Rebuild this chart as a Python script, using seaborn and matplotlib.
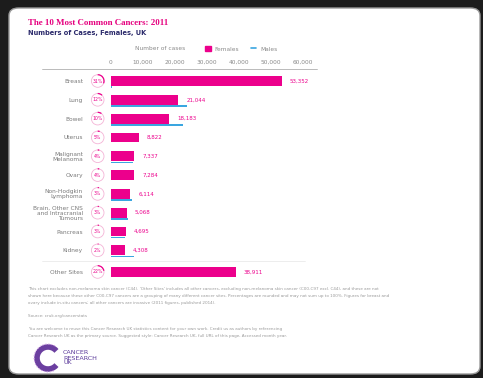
import numpy as np
import pandas as pd
import matplotlib
matplotlib.use("Agg")
import matplotlib.pyplot as plt
import matplotlib.patches as mpatches
import matplotlib.transforms as mtransforms
from matplotlib.lines import Line2D
import seaborn as sns

# ---------------- data ----------------
sites = ["Breast", "Lung", "Bowel", "Uterus", "Malignant\nMelanoma", "Ovary",
         "Non-Hodgkin\nLymphoma", "Brain, Other CNS\nand Intracranial\nTumours",
         "Pancreas", "Kidney", "Other Sites"]
females = [53352, 21044, 18183, 8822, 7337, 7284, 6114, 5068, 4695, 4308, 38911]
males = [350, 23700, 22400, np.nan, 6900, np.nan, 6750, 5400, 4600, 7400, np.nan]
percents = ["31%", "12%", "10%", "5%", "4%", "4%", "3%", "3%", "3%", "2%", "22%"]
xticks = [0, 10000, 20000, 30000, 40000, 50000, 60000]

PINK = "#ec008c"
BLUE = "#3aa6e0"
GREY = "#8a8a8a"

W, H = 483, 378
DPI = 100

sns.set_theme(style="white")
plt.rcParams["font.family"] = ["DejaVu Sans"]

fig = plt.figure(figsize=(W / DPI, H / DPI), dpi=DPI, facecolor="#1c1c1c")

def fx(px):
    return px / W

def fy(py):
    return 1 - py / H

# white rounded panel
panel = mpatches.FancyBboxPatch((fx(9), fy(374)), fx(471), 366 / H,
                                boxstyle="round,pad=0,rounding_size=0.02",
                                transform=fig.transFigure, facecolor="white",
                                edgecolor="#9a9a9a", linewidth=1.0, zorder=-10)
fig.patches.append(panel)

# positions (layout, computed)
n = len(sites)
pos = [float(i) for i in range(n - 1)] + [n - 1 + 0.15]

df_f = pd.DataFrame({"site": sites, "cases": females, "pos": pos})
df_m = pd.DataFrame({"site": sites, "cases": males,
                     "pos": [p + 0.33 for p in pos]}).dropna()

# axes placement
row_px = 18.8
top_px = 81 - 0.69 * row_px
bot_px = 272 + 0.55 * row_px
left_px = 110.7
right_px = 317
ax = fig.add_axes([fx(left_px), fy(bot_px), fx(right_px - left_px),
                   (bot_px - top_px) / H])
ax.set_facecolor("none")
ax.set_zorder(1)

sns.barplot(data=df_f, x="cases", y="pos", orient="h", native_scale=True,
            color=PINK, width=0.52, saturation=1, ax=ax, linewidth=0)
sns.barplot(data=df_m, x="cases", y="pos", orient="h", native_scale=True,
            color=BLUE, width=0.08, saturation=1, ax=ax, linewidth=0)

xmax = (right_px - left_px) / 32.1 * 10000
ax.set_xlim(0, xmax)
ax.set_ylim(pos[-1] + 0.55, -0.69)

ax.xaxis.tick_top()
ax.set_xticks(xticks)
ax.set_xticklabels([f"{t:,}" for t in xticks], fontsize=4.2, color=GREY)
ax.tick_params(axis="x", length=0, pad=2)
ax.set_yticks(pos)
ax.set_yticklabels(sites, fontsize=4.2, color="#7a7a7a", linespacing=1.0)
ax.tick_params(axis="y", length=0, pad=20)
ax.set_xlabel("")
ax.set_ylabel("")
for s in ax.spines.values():
    s.set_visible(False)

# value labels
for v, p in zip(females, pos):
    ax.text(v + 2500, p, f"{v:,}", color=PINK,
            fontsize=4.0, va="center", ha="left")

# percentage icons
for pc, p in zip(percents, pos):
    disp = ax.transData.transform((0, p))
    cx = 97.7
    cy = disp[1]
    circ = mpatches.Circle((cx, cy), 6.3, transform=mtransforms.IdentityTransform(),
                           facecolor="white", edgecolor="#f4b3d6", linewidth=0.6,
                           zorder=5)
    fig.patches.append(circ)
    frac = float(pc.strip("%")) / 100
    arc = mpatches.Arc((cx, cy), 12.6, 12.6, theta1=90 - 360 * frac, theta2=90,
                       transform=mtransforms.IdentityTransform(),
                       edgecolor=PINK, linewidth=0.9, zorder=6)
    fig.patches.append(arc)
    fig.text(fx(cx), cy / H, pc, fontsize=3.3, color=PINK, ha="center",
             va="center", zorder=7)

# separator lines
fig.add_artist(Line2D([fx(42), fx(317)], [fy(69), fy(69)], color="#b0b0b0",
                      linewidth=0.6))
sep_y = ax.transData.transform((0, (pos[-2] + pos[-1]) / 2))[1] / H
fig.add_artist(Line2D([fx(42), fx(305)], [sep_y, sep_y], color="#e6e6e6",
                      linewidth=0.5))

# titles
fig.text(fx(28), fy(23), "The 10 Most Common Cancers: 2011", fontsize=6.4,
         color="#e5007e", fontweight="bold", family=["Liberation Serif"],
         va="center", ha="left")
fig.text(fx(28), fy(33.5), "Numbers of Cases, Females, UK", fontsize=4.8,
         color="#2b2a6b", fontweight="bold", va="center", ha="left")

# legend row
fig.text(fx(135), fy(49), "Number of cases", fontsize=4.2, color=GREY,
         va="center", ha="left")
handles = [mpatches.Patch(facecolor=PINK, edgecolor=PINK, label="Females"),
           Line2D([0], [0], color=BLUE, linewidth=1.2, label="Males")]
fig.legend(handles=handles, loc="center left",
           bbox_to_anchor=(fx(205), fy(49)), ncol=2, frameon=False,
           fontsize=4.2, handlelength=1.0, handleheight=0.9,
           columnspacing=2.0, handletextpad=0.6, labelcolor=GREY,
           borderpad=0, borderaxespad=0)

# footnotes
foot = [
    (289, "This chart excludes non-melanoma skin cancer (C44). 'Other Sites' includes all other cancers, excluding non-melanoma skin cancer (C00-C97 excl. C44), and these are not"),
    (296, "shown here because these other C00-C97 cancers are a grouping of many different cancer sites. Percentages are rounded and may not sum up to 100%. Figures for breast and"),
    (303, "ovary include in-situ cancers; all other cancers are invasive (2011 figures, published 2014)."),
    (316, "Source: cruk.org/cancerstats"),
    (329, "You are welcome to reuse this Cancer Research UK statistics content for your own work. Credit us as authors by referencing"),
    (336, "Cancer Research UK as the primary source. Suggested style: Cancer Research UK, full URL of this page, Accessed month year."),
]
for y, t in foot:
    fig.text(fx(28), fy(y), t, fontsize=3.0, color="#9a9a9a", va="center",
             ha="left")

# logo
logo = mpatches.Arc((48, H - 358), 22, 22, theta1=40, theta2=320,
                    transform=mtransforms.IdentityTransform(),
                    edgecolor="#6b3fa0", linewidth=4.0)
fig.patches.append(logo)
logo2 = mpatches.Arc((48, H - 358), 28, 28, theta1=60, theta2=300,
                     transform=mtransforms.IdentityTransform(),
                     edgecolor="#d7a6e8", linewidth=0.8, linestyle=":")
fig.patches.append(logo2)
fig.text(fx(63), fy(358), "CANCER\nRESEARCH\nUK", fontsize=4.6,
         color="#5b3a9a", va="center", ha="left", linespacing=1.0)

fig.savefig("out.png", dpi=DPI, facecolor=fig.get_facecolor())
